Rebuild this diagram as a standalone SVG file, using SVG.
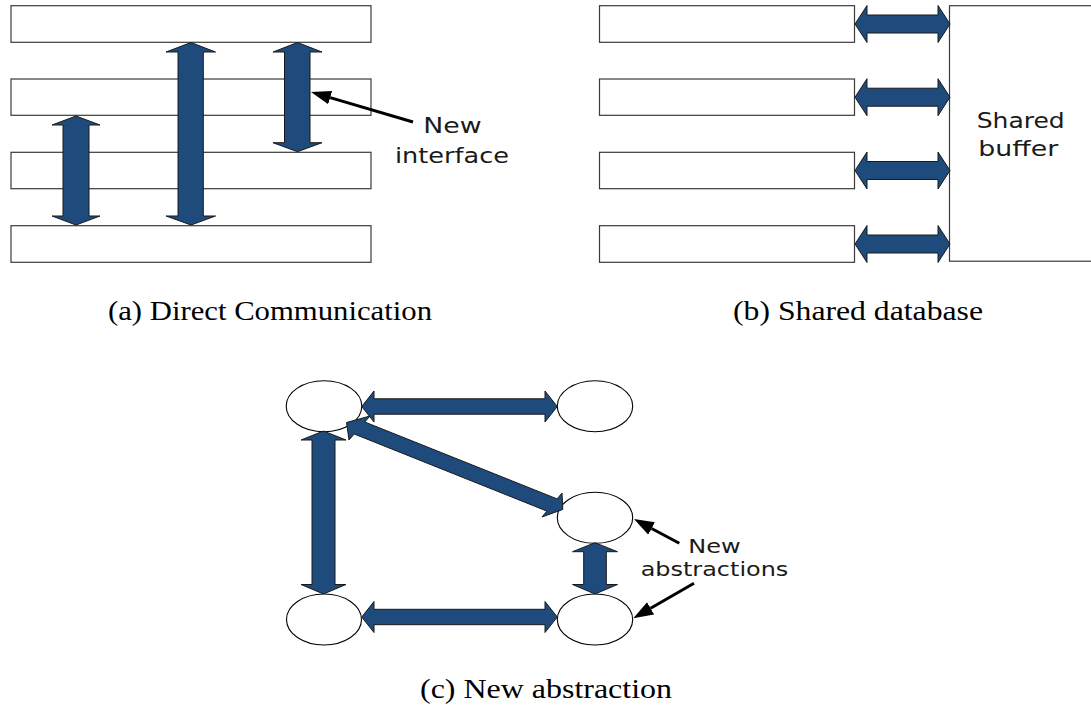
<svg xmlns="http://www.w3.org/2000/svg" width="1091" height="710" viewBox="0 0 1091 710">
  <style>
    .box { fill: #ffffff; stroke: #3a3a3a; stroke-width: 1.2; }
    .node { fill: #ffffff; stroke: #000000; stroke-width: 1.1; }
    .flow { fill: #1f4a7c; stroke: #1a1a1a; stroke-width: 1; stroke-linejoin: miter; }
    .pointer { stroke: #000000; stroke-width: 3; fill: none; marker-end: url(#head); }
    .label { font-family: "DejaVu Sans", "Open Sans", sans-serif; fill: #1a1a1a; }
    .caption { font-family: "Liberation Serif", "DejaVu Serif", serif; font-size: 28px; fill: #000000; }
  </style>
  <defs>
    <marker id="head" markerUnits="userSpaceOnUse" markerWidth="22" markerHeight="16" refX="0" refY="7" orient="auto" viewBox="0 0 22 14">
      <path d="M0,0 L20,7 L0,14 Z" fill="#000000"/>
    </marker>
  </defs>

  <rect width="1091" height="710" fill="#ffffff"/>

  <!-- (a) direct communication: four components -->
  <g id="a-comp1"><rect class="box" x="11" y="5.7" width="360" height="36.6"/></g>
  <g id="a-comp2"><rect class="box" x="11" y="79" width="360" height="36.3"/></g>
  <g id="a-comp3"><rect class="box" x="11" y="152.3" width="360" height="36.4"/></g>
  <g id="a-comp4"><rect class="box" x="11" y="225.7" width="360" height="36.6"/></g>

  <!-- (b) shared database: four components plus buffer -->
  <g id="b-comp1"><rect class="box" x="599.5" y="5.7" width="255" height="36.6"/></g>
  <g id="b-comp2"><rect class="box" x="599.5" y="79" width="255" height="36.3"/></g>
  <g id="b-comp3"><rect class="box" x="599.5" y="152.3" width="255" height="36.4"/></g>
  <g id="b-comp4"><rect class="box" x="599.5" y="225.7" width="255" height="36.6"/></g>
  <g id="b-buffer">
    <rect class="box" x="949.5" y="5.7" width="150" height="255.5"/>
    <text class="label" x="976.7" y="127.7" font-size="20.5" textLength="88" lengthAdjust="spacingAndGlyphs">Shared</text>
    <text class="label" x="978.3" y="156" font-size="20.5" textLength="80" lengthAdjust="spacingAndGlyphs">buffer</text>
  </g>

  <!-- (c) new abstraction: five nodes -->
  <g id="c-node1"><ellipse class="node" cx="324" cy="406.2" rx="37.8" ry="25.5"/></g>
  <g id="c-node2"><ellipse class="node" cx="595" cy="406.2" rx="37.7" ry="25.5"/></g>
  <g id="c-node3"><ellipse class="node" cx="595" cy="517.8" rx="37.7" ry="25.5"/></g>
  <g id="c-node4"><ellipse class="node" cx="324" cy="619.5" rx="37.5" ry="25.5"/></g>
  <g id="c-node5"><ellipse class="node" cx="595" cy="619.5" rx="37.7" ry="25.5"/></g>

  <!-- connectors -->
  <g id="connectors">
    <!-- (a) vertical double arrows -->
    <polygon class="flow" points="76,116 100,125 89,125 89,216 100,216 76,225 52,216 63,216 63,125 52,125"/>
    <polygon class="flow" points="191,42.5 215.5,52 203.3,52 203.3,216 215.5,216 191,225 166,216 178,216 178,52 166,52"/>
    <polygon class="flow" points="297.5,42.5 322,52 310,52 310,142.7 322,142.7 297.5,151.7 273,142.7 284.5,142.7 284.5,52 273,52"/>

    <!-- (b) horizontal double arrows to the buffer -->
    <polygon class="flow" points="855,24 867,5.5 867,15 938,15 938,5.5 950,24 938,42.5 938,33 867,33 867,42.5"/>
    <polygon class="flow" points="855,97.2 867,78.7 867,88.2 938,88.2 938,78.7 950,97.2 938,115.7 938,106.2 867,106.2 867,115.7"/>
    <polygon class="flow" points="855,170.5 867,152 867,161.5 938,161.5 938,152 950,170.5 938,189 938,179.5 867,179.5 867,189"/>
    <polygon class="flow" points="855,244 867,225.5 867,235 938,235 938,225.5 950,244 938,262.5 938,253 867,253 867,262.5"/>

    <!-- (c) links between nodes -->
    <polygon class="flow" points="361.7,406.5 374,391 374,398.8 545,398.8 545,391 557.3,406.5 545,422 545,414.2 374,414.2 374,422"/>
    <polygon class="flow" points="361.7,617 374,601.5 374,609.3 545,609.3 545,601.5 557.3,617 545,632.5 545,624.7 374,624.7 374,632.5"/>
    <polygon class="flow" points="323.5,431 346,440 335,440 335,584.5 346,584.5 323.5,594 301,584.5 312,584.5 312,440 301,440"/>
    <polygon class="flow" points="595,542.7 617.5,551.7 606.3,551.7 606.3,584.5 617.5,584.5 595,594 572.5,584.5 583.7,584.5 583.7,551.7 572.5,551.7"/>
    <polygon class="flow" points="346.5,422.5 370,416 364.8,422 557.1,498.9 562,493 562.8,509.4 542,517 546.9,511.1 354.2,434 349,440"/>

    <!-- callout pointers -->
    <line class="pointer" x1="413" y1="122" x2="330.2" y2="97.6"/>
    <line class="pointer" x1="679.3" y1="543.3" x2="651.6" y2="528.5"/>
    <line class="pointer" x1="694" y1="583.3" x2="650.6" y2="608.3"/>
  </g>

  <!-- callout labels -->
  <g id="note-interface">
    <text class="label" x="423.3" y="133.3" font-size="20.5" textLength="58.4" lengthAdjust="spacingAndGlyphs">New</text>
    <text class="label" x="395" y="163.3" font-size="20.5" textLength="114" lengthAdjust="spacingAndGlyphs">interface</text>
  </g>
  <g id="note-abstractions">
    <text class="label" x="688.3" y="552.7" font-size="19" textLength="52.4" lengthAdjust="spacingAndGlyphs">New</text>
    <text class="label" x="640.7" y="576" font-size="19" textLength="147.6" lengthAdjust="spacingAndGlyphs">abstractions</text>
  </g>

  <!-- sub-figure captions -->
  <text class="caption" x="108" y="320" textLength="324" lengthAdjust="spacingAndGlyphs">(a) Direct Communication</text>
  <text class="caption" x="733" y="320" textLength="250" lengthAdjust="spacingAndGlyphs">(b) Shared database</text>
  <text class="caption" x="420" y="698" textLength="252" lengthAdjust="spacingAndGlyphs">(c) New abstraction</text>
</svg>
